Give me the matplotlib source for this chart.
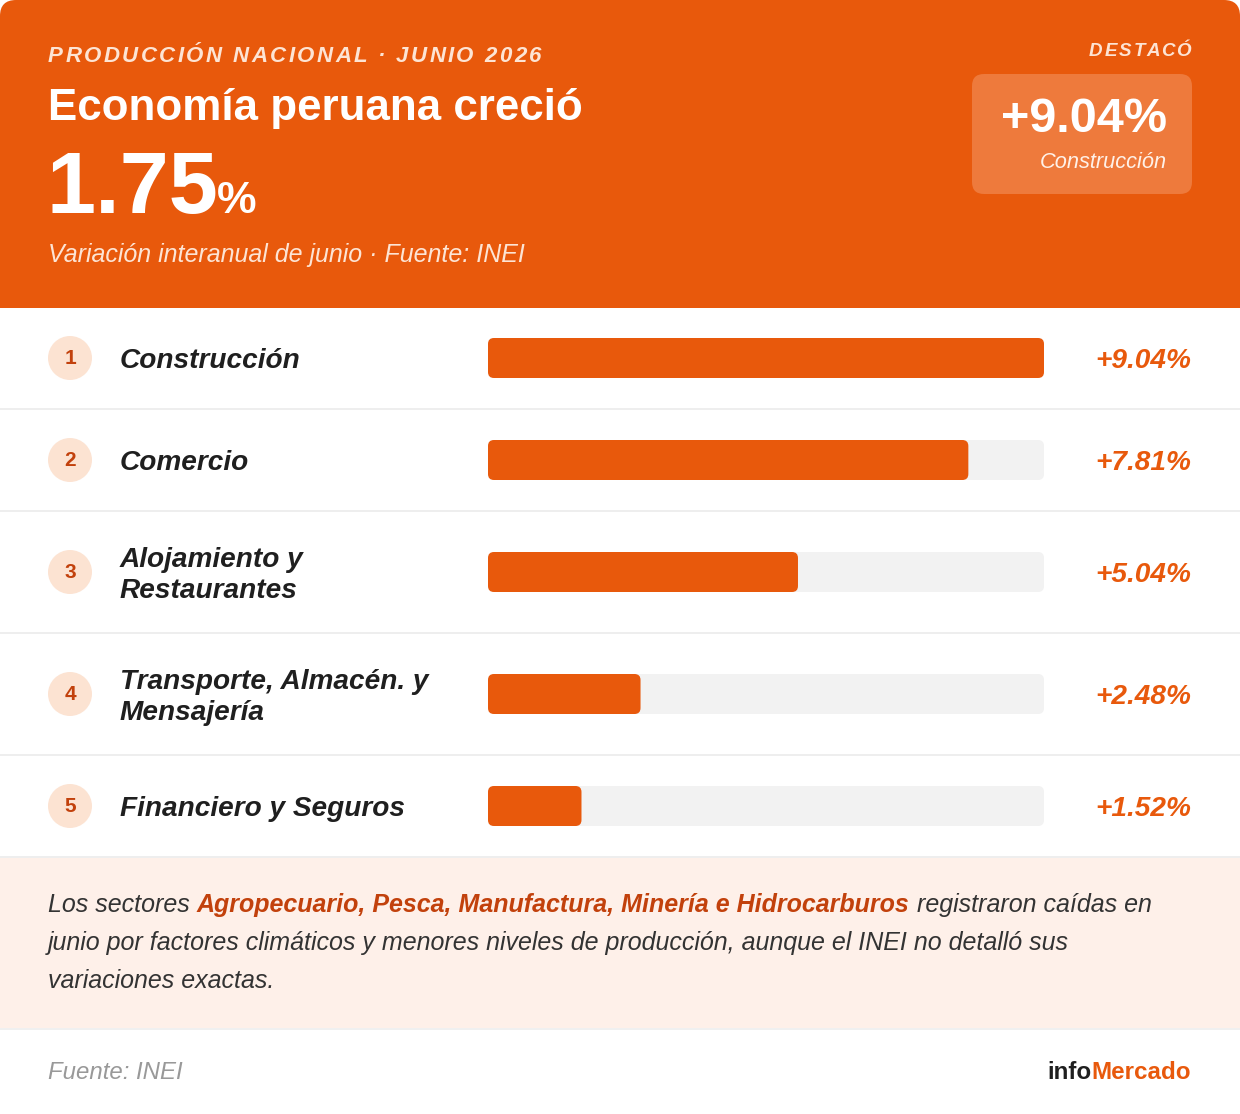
import matplotlib
matplotlib.use("Agg")
import matplotlib.pyplot as plt
from matplotlib.patches import FancyBboxPatch, Rectangle, Circle

plt.rcParams['font.family'] = ['Liberation Sans', 'DejaVu Sans']

# datos
sectores = [["Construcción"], ["Comercio"], ["Alojamiento y", "Restaurantes"],
            ["Transporte, Almacén. y", "Mensajería"], ["Financiero y Seguros"]]
variacion = [9.04, 7.81, 5.04, 2.48, 1.52]
etiquetas = ["+9.04%", "+7.81%", "+5.04%", "+2.48%", "+1.52%"]
total = "1.75"
destaco_valor = "+9.04%"
destaco_sector = "Construcción"

NARANJA = "#E8590C"
OSCURO = "#C2410C"
W, H = 1240, 1114

fig = plt.figure(figsize=(W / 100, H / 100), dpi=100)
fig.patch.set_facecolor("white")
ax = fig.add_axes([0, 0, 1, 1])
ax.set_xlim(0, W)
ax.set_ylim(H, 0)
ax.axis("off")
rend = fig.canvas.get_renderer()


def ancho(s, **kw):
    # avance de s en px (truco: s+'x' menos 'x')
    t1 = ax.text(0, 0, s + "x", **kw)
    t2 = ax.text(0, 0, "x", **kw)
    w = t1.get_window_extent(rend).width - t2.get_window_extent(rend).width
    t1.remove()
    t2.remove()
    return w


def espaciado(x, y, s, sp, ha="left", **kw):
    total_w = ancho(s, **kw) + sp * (len(s) - 1)
    if ha == "right":
        x = x - total_w
    for i, ch in enumerate(s):
        xi = x + ancho(s[:i], **kw) + sp * i if i else x
        ax.text(xi, y, ch, va="baseline", **kw)


def linea(x, y, partes, size):
    for txt, peso, color in partes:
        kw = dict(fontsize=size, fontstyle="italic", fontweight=peso, color=color)
        ax.text(x, y, txt, va="baseline", **kw)
        x += ancho(txt, **kw)


# cabecera
ax.add_patch(FancyBboxPatch((0, 0), W, 308, boxstyle="round,pad=0,rounding_size=16",
                            fc=NARANJA, ec="none"))
ax.add_patch(Rectangle((0, 200), W, 108, fc=NARANJA, ec="none"))

claro = "#FDE4D4"
espaciado(48, 62, "PRODUCCIÓN NACIONAL · JUNIO 2026", 2.4, fontsize=16,
          fontweight="bold", fontstyle="italic", color=claro)
ax.text(48, 120, "Economía peruana creció", fontsize=31.6, fontweight="bold",
        color="white", va="baseline")
ax.text(46, 213, total, fontsize=63.5, fontweight="bold", color="white", va="baseline")
x_pct = 46 + ancho(total, fontsize=63.5, fontweight="bold") - 1
ax.text(x_pct, 213, "%", fontsize=32, fontweight="bold", color="white", va="baseline")
ax.text(48, 262, "Variación interanual de junio · Fuente: INEI", fontsize=18,
        fontstyle="italic", color=claro, va="baseline")

espaciado(1191, 56, "DESTACÓ", 2.0, ha="right", fontsize=13.5, fontweight="bold",
          fontstyle="italic", color=claro)
ax.add_patch(FancyBboxPatch((972, 74), 220, 120, boxstyle="round,pad=0,rounding_size=12",
                            fc="#EE7A3C", ec="none"))
ax.text(1167, 132, destaco_valor, fontsize=35, fontweight="bold", color="white",
        ha="right", va="baseline")
ax.text(1167, 168, destaco_sector, fontsize=15.7, fontstyle="italic", color="#FFF1E8",
        ha="right", va="baseline")

# filas
centros = [358, 460, 572, 694, 806]
bordes = [409, 511, 633, 755, 857]
for i, (c, b) in enumerate(zip(centros, bordes)):
    ax.add_patch(Rectangle((0, b - 1), W, 2, fc="#EEEEEE", ec="none"))
    ax.add_patch(Circle((70, c), 22, fc="#FCE3D2", ec="none"))
    ax.text(70, c + 6, str(i + 1), fontsize=15, fontweight="bold", color=OSCURO,
            ha="center", va="baseline")
    lineas = sectores[i]
    if len(lineas) == 1:
        bases = [c + 10]
    else:
        bases = [c - 5, c + 26]
    for txt, yb in zip(lineas, bases):
        ax.text(120, yb, txt, fontsize=20.2, fontweight="bold", fontstyle="italic",
                color="#1F1F1F", va="baseline")
    ax.text(1191, c + 10, etiquetas[i], fontsize=20.2, fontweight="bold",
            fontstyle="italic", color=NARANJA, ha="right", va="baseline")

# barras
vmax = max(variacion)
bx = fig.add_axes([488 / W, (H - 857) / H, 556 / W, (857 - 308) / H])
bx.set_xlim(0, vmax)
bx.set_ylim(857, 308)
bx.axis("off")
asp = 556 / vmax
r = 6 / asp
for c, v in zip(centros, variacion):
    bx.add_patch(FancyBboxPatch((0, c - 20), vmax, 40,
                                boxstyle=f"round,pad=0,rounding_size={r}",
                                mutation_aspect=asp, fc="#F2F2F2", ec="none"))
    bx.add_patch(FancyBboxPatch((0, c - 20), v, 40,
                                boxstyle=f"round,pad=0,rounding_size={r}",
                                mutation_aspect=asp, fc=NARANJA, ec="none"))

# nota
ax.add_patch(Rectangle((0, 858), W, 170, fc="#FEF0E9", ec="none"))
gris = "#333333"
linea(48, 912, [("Los sectores ", "normal", gris),
                ("Agropecuario, Pesca, Manufactura, Minería e Hidrocarburos", "bold", OSCURO),
                (" registraron caídas en", "normal", gris)], 18)
linea(48, 950, [("junio por factores climáticos y menores niveles de producción, "
                 "aunque el INEI no detalló sus", "normal", gris)], 18)
linea(48, 988, [("variaciones exactas.", "normal", gris)], 18)
ax.add_patch(Rectangle((0, 1028), W, 1.5, fc="#F0F0F0", ec="none"))

# pie
ax.text(48, 1079, "Fuente: INEI", fontsize=17.3, fontstyle="italic", color="#999999",
        va="baseline")
w_merc = ancho("Mercado", fontsize=17.4, fontweight="bold")
ax.text(1191, 1079, "Mercado", fontsize=17.4, fontweight="bold", color=NARANJA,
        ha="right", va="baseline")
ax.text(1191 - w_merc, 1079, "info", fontsize=17.4, fontweight="bold", color="#1F1F1F",
        ha="right", va="baseline")

fig.savefig("out.png", dpi=100)
